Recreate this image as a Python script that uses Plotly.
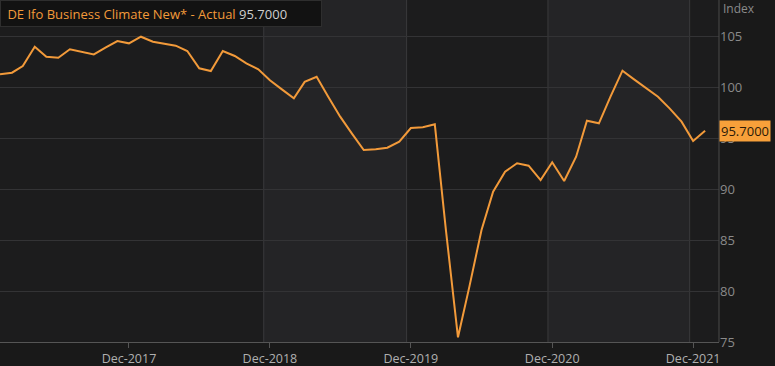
import plotly.graph_objects as go
import pandas as pd

# ---- data ----
months = pd.date_range("2017-01-01", "2022-01-01", freq="MS").strftime("%Y-%m-%d").tolist()
values = [
    101.25, 101.4, 102.06, 103.95, 102.97, 102.87, 103.7, 103.46, 103.2, 103.85, 104.5, 104.28,
    104.93, 104.44, 104.28, 104.05, 103.53, 101.83, 101.57, 103.53, 103.04, 102.32, 101.74, 100.66,
    99.77, 98.89, 100.5, 101.0, 99.05, 97.09, 95.46, 93.82, 93.89, 94.05, 94.64, 95.98,
    96.05, 96.34, 85.9, 75.46, 80.5, 85.98, 89.74, 91.7, 92.52, 92.29, 90.88, 92.62,
    90.78, 93.17, 96.7, 96.44, 99.05, 101.6, 100.75, 99.87, 99.05, 97.91, 96.6, 94.7,
    95.7,
]
x_tickvals = ["2017-12-01", "2018-12-01", "2019-12-01", "2020-12-01", "2021-12-01"]
x_ticktext = ["Dec-2017", "Dec-2018", "Dec-2019", "Dec-2020", "Dec-2021"]
y_tickvals = [75, 80, 85, 90, 95, 100, 105]
band_edges = ["2018-11-15", "2019-11-20", "2020-11-20", "2021-11-22"]
series_name = "DE Ifo Business Climate New* - Actual"
last_value = values[-1]

LINE = "#f29a3a"
FONT = "Open Sans"

fig = go.Figure()
fig.add_trace(go.Scatter(x=months, y=values, mode="lines",
                         line=dict(color=LINE, width=2), hoverinfo="skip"))

shapes = []
# alternating shaded bands
for a, b in [(band_edges[0], band_edges[1]), (band_edges[2], band_edges[3])]:
    shapes.append(dict(type="rect", xref="x", yref="paper", x0=a, x1=b, y0=0, y1=1,
                       fillcolor="#242426", line_width=0, layer="below"))
for e in band_edges:
    shapes.append(dict(type="line", xref="x", yref="paper", x0=e, x1=e, y0=0, y1=1,
                       line=dict(color="#3a3a3c", width=1), layer="below"))
# right axis line
shapes.append(dict(type="line", xref="paper", yref="paper", x0=1, x1=1, y0=0, y1=1,
                   line=dict(color="#4a4a4a", width=1), layer="above"))

annotations = [
    dict(xref="paper", yref="paper", x=0, y=1, xanchor="left", yanchor="top",
         text=f"&nbsp;<span style='color:{LINE}'>{series_name}</span> "
              f"<span style='color:#cfcfcf'>{last_value:.4f}</span>",
         showarrow=False, align="left", width=314, height=19,
         bgcolor="#121212", bordercolor="#2e2e2e", borderwidth=1, borderpad=3,
         font=dict(family=FONT, size=13)),
    dict(xref="paper", yref="paper", x=1, y=1, xanchor="left", yanchor="top",
         xshift=2, yshift=2, text="Index", showarrow=False,
         font=dict(family=FONT, size=12, color="#8a8a8a")),
    dict(xref="paper", yref="y", x=1, y=last_value, xanchor="left", yanchor="middle",
         text=f"{last_value:.4f}", showarrow=False, bgcolor="#f7a03a",
         borderpad=1, font=dict(family=FONT, size=13, color="#2a1a08")),
]

fig.update_layout(
    width=775, height=366,
    margin=dict(l=0, r=56, t=0, b=24),
    paper_bgcolor="#191919", plot_bgcolor="#1c1c1d",
    showlegend=False,
    shapes=shapes, annotations=annotations,
    xaxis=dict(range=["2017-01-01", "2022-02-06"], tickvals=x_tickvals, ticktext=x_ticktext,
               showgrid=False, zeroline=False, showline=True, linecolor="#555555", linewidth=1,
               ticks="outside", ticklen=5, tickcolor="#555555",
               tickfont=dict(family=FONT, size=12.5, color="#b0b0b0")),
    yaxis=dict(range=[75, 108.53], side="right", tickvals=y_tickvals,
               showgrid=True, gridcolor="#333335", gridwidth=1, zeroline=False,
               showline=False, ticks="",
               tickfont=dict(family=FONT, size=13, color="#8a8a8a")),
)

fig.write_html("out.html")
